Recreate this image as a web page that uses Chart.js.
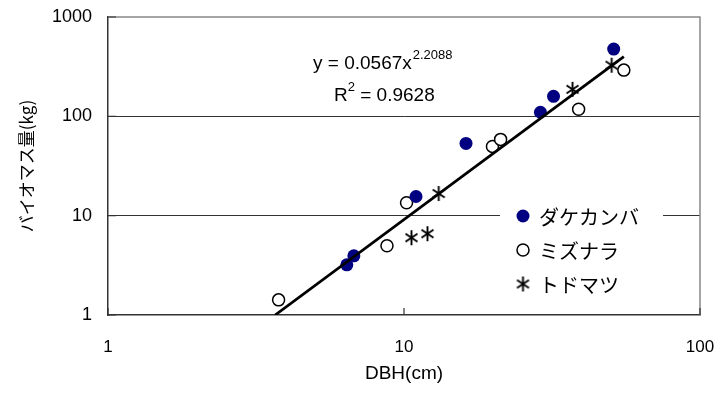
<!DOCTYPE html>
<html>
<head>
<meta charset="utf-8">
<script src="https://cdn.jsdelivr.net/npm/chart.js@4.4.0/dist/chart.umd.min.js"></script>
<style>
  html, body { margin: 0; padding: 0; background: #fff; }
</style>
</head>
<body>
<canvas id="biomass-chart" width="720" height="394"></canvas>
<script>
const seriesNames = ["ダケカンバ", "ミズナラ", "トドマツ"];
const dakeX = [6.41, 6.77, 10.98, 16.2, 28.9, 32.0, 51.1];
const dakeY = [3.2, 3.94, 15.6, 53.4, 110, 159, 475];
const mizuX = [3.77, 8.76, 10.2, 19.9, 21.2, 38.9, 55.3];
const mizuY = [1.42, 4.98, 13.5, 49.8, 58.6, 118, 292];
const todoX = [10.6, 12.0, 13.1, 37.1, 50.3];
const todoY = [6.0, 6.58, 16.7, 187, 327];
const trendX = [3.67, 55.3];
const trendY = [1.0, 400];
const xTicks = [1, 10, 100];
const yTicks = [1, 10, 100, 1000];
const eqMain = "y = 0.0567x";
const eqExp = "2.2088";
const r2Value = "0.9628";

const NUM_FONT = '"Liberation Sans", Arial, sans-serif';
const JP_FONT = '"Noto Sans CJK JP", sans-serif';

function toPoints(xs, ys) {
  return xs.map((x, i) => ({ x: x, y: ys[i] }));
}

// 6-spoke asterisk used for トドマツ
function makeAsterisk() {
  const c = document.createElement("canvas");
  c.width = 15;
  c.height = 17;
  const g = c.getContext("2d");
  g.strokeStyle = "#000";
  g.lineWidth = 1.9;
  g.beginPath();
  g.moveTo(7.5, 1); g.lineTo(7.5, 16);
  g.moveTo(1.5, 4.5); g.lineTo(13.5, 12.5);
  g.moveTo(1.5, 12.5); g.lineTo(13.5, 4.5);
  g.stroke();
  return c;
}
const asterisk = makeAsterisk();

// top/right frame, inner tick marks
const framePlugin = {
  id: "frame",
  afterDatasetsDraw(chart) {
    const { ctx, chartArea: a, scales } = chart;
    ctx.save();
    ctx.strokeStyle = "#888";
    ctx.lineWidth = 1.5;
    ctx.beginPath();
    ctx.moveTo(a.left, a.top);
    ctx.lineTo(a.right, a.top);
    ctx.lineTo(a.right, a.bottom);
    ctx.stroke();
    ctx.strokeStyle = "#333";
    ctx.lineWidth = 1.2;
    ctx.beginPath();
    xTicks.forEach(v => {
      const px = scales.x.getPixelForValue(v);
      ctx.moveTo(px, a.bottom);
      ctx.lineTo(px, a.bottom - 7);
    });
    yTicks.forEach(v => {
      const py = scales.y.getPixelForValue(v);
      ctx.moveTo(a.left, py);
      ctx.lineTo(a.left + 8, py);
    });
    ctx.stroke();
    ctx.restore();
  },
};

// equation + R^2 text
const equationPlugin = {
  id: "equation",
  afterDraw(chart) {
    const ctx = chart.ctx;
    ctx.save();
    ctx.fillStyle = "#000";
    ctx.textBaseline = "alphabetic";
    ctx.textAlign = "left";
    ctx.font = "19px " + NUM_FONT;
    let x = 313;
    ctx.fillText(eqMain, x, 69);
    x += ctx.measureText(eqMain).width;
    ctx.font = "13px " + NUM_FONT;
    ctx.fillText(eqExp, x + 1, 59);

    ctx.font = "19px " + NUM_FONT;
    x = 334;
    ctx.fillText("R", x, 101);
    x += ctx.measureText("R").width;
    ctx.font = "13px " + NUM_FONT;
    ctx.fillText("2", x, 91);
    x += ctx.measureText("2").width;
    ctx.font = "19px " + NUM_FONT;
    ctx.fillText(" = " + r2Value, x, 101);
    ctx.restore();
  },
};

// legend with white box over the gridline
const legendPlugin = {
  id: "boxLegend",
  afterDraw(chart) {
    const ctx = chart.ctx;
    const bx = 500, by = 198, bw = 163, bh = 104;
    ctx.save();
    ctx.fillStyle = "#fff";
    ctx.fillRect(bx, by, bw, bh);
    const rows = [216, 250, 284];
    chart.data.datasets.forEach((ds, i) => {
      if (ds.hideInLegend) return;
      const y = rows[i];
      ctx.fillStyle = ds.backgroundColor;
      ctx.strokeStyle = ds.borderColor;
      ctx.lineWidth = ds.borderWidth;
      Chart.helpers.drawPoint(ctx, {
        pointStyle: ds.pointStyle,
        radius: ds.pointRadius,
        rotation: 0,
        borderWidth: ds.borderWidth,
      }, 523, y);
      ctx.fillStyle = "#000";
      ctx.font = "20px " + JP_FONT;
      ctx.textBaseline = "middle";
      ctx.textAlign = "left";
      ctx.fillText(ds.label, 539, y + 1);
    });
    ctx.restore();
  },
};

const ctx = document.getElementById("biomass-chart");

const chart = new Chart(ctx, {
  type: "scatter",
  data: {
    datasets: [
      {
        label: seriesNames[0],
        data: toPoints(dakeX, dakeY),
        pointStyle: "circle",
        pointRadius: 6.5,
        backgroundColor: "#000080",
        borderColor: "#000080",
        borderWidth: 0,
        order: 1,
      },
      {
        label: seriesNames[1],
        data: toPoints(mizuX, mizuY),
        pointStyle: "circle",
        pointRadius: 6,
        backgroundColor: "#fff",
        borderColor: "#000",
        borderWidth: 1.5,
        order: 1,
      },
      {
        label: seriesNames[2],
        data: toPoints(todoX, todoY),
        pointStyle: asterisk,
        pointRadius: 8,
        backgroundColor: "#000",
        borderColor: "#000",
        borderWidth: 0,
        order: 1,
      },
      {
        label: "trend",
        hideInLegend: true,
        data: toPoints(trendX, trendY),
        showLine: true,
        borderColor: "#000",
        borderWidth: 2.8,
        pointRadius: 0,
        order: 0,
      },
    ],
  },
  options: {
    responsive: false,
    animation: false,
    layout: {
      padding: { left: 0, right: 20, top: 17, bottom: 0 },
    },
    plugins: {
      legend: { display: false },
      tooltip: { enabled: false },
    },
    scales: {
      x: {
        type: "logarithmic",
        min: 1,
        max: 100,
        afterBuildTicks: (s) => { s.ticks = xTicks.map(v => ({ value: v })); },
        afterFit: (s) => {
          s.height = 79;
          s.paddingLeft = 0;
          s.paddingRight = 0;
        },
        ticks: {
          color: "#000",
          font: { family: NUM_FONT, size: 17 },
          padding: 22,
          maxRotation: 0,
          autoSkip: false,
          callback: (v) => String(v),
        },
        grid: { display: false, drawTicks: false },
        border: { display: true, color: "#333", width: 1.5 },
        title: {
          display: true,
          text: "DBH(cm)",
          color: "#000",
          font: { family: NUM_FONT, size: 19 },
          padding: { top: 0, bottom: 9 },
        },
      },
      y: {
        type: "logarithmic",
        min: 1,
        max: 1000,
        afterBuildTicks: (s) => { s.ticks = yTicks.map(v => ({ value: v })); },
        afterFit: (s) => {
          s.width = 108;
          s.paddingTop = 0;
          s.paddingBottom = 0;
        },
        ticks: {
          color: "#000",
          font: { family: NUM_FONT, size: 18 },
          padding: 16,
          autoSkip: false,
          callback: (v) => String(v),
        },
        grid: {
          drawTicks: false,
          lineWidth: 1,
          color: (c) => (c.tick && c.tick.value > 1 && c.tick.value < 1000) ? "#333" : "rgba(0,0,0,0)",
        },
        border: { display: true, color: "#333", width: 1.5 },
        title: {
          display: true,
          text: "バイオマス量(kg)",
          color: "#000",
          font: { family: JP_FONT, size: 17 },
          padding: { top: 16, bottom: 0 },
        },
      },
    },
  },
  plugins: [framePlugin, equationPlugin, legendPlugin],
});
</script>
</body>
</html>
